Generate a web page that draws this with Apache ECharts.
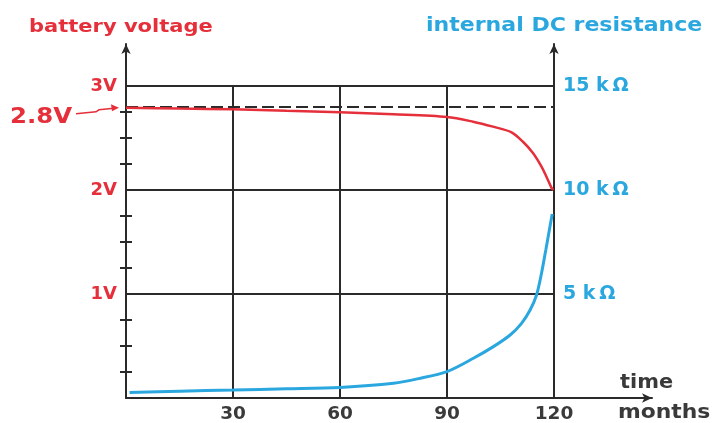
<!DOCTYPE html>
<html><head><meta charset="utf-8">
<script src="https://cdn.jsdelivr.net/npm/echarts@6/dist/echarts.min.js"></script>
<style>html,body{margin:0;padding:0;background:#fff}#c{width:712px;height:423px}</style>
</head><body><div id="c"></div>
<script>
// ---- data ----
const voltMonths = [0, 15, 30, 45, 60, 75, 90, 97.3, 102.9, 108.1, 111.3, 114.1, 116.5, 118.3, 119.3, 119.8];
const voltage    = [2.79, 2.783, 2.776, 2.762, 2.747, 2.728, 2.702, 2.657, 2.609, 2.555, 2.464, 2.356, 2.224, 2.096, 2.02, 2.0];
const resMonths  = [1, 15, 30, 45, 60, 75, 82, 90, 97.4, 103, 107.7, 110.9, 113.3, 115.1, 116.5, 117.7, 118.7, 119.5];
const resistance = [0.27, 0.33, 0.38, 0.44, 0.51, 0.71, 0.93, 1.27, 1.91, 2.47, 3.03, 3.59, 4.23, 4.95, 6.0, 7.12, 8.08, 8.85];
const monthTicks = [30, 60, 90, 120];
const voltTicks = [1, 2, 3];
const resTicks = [5, 10, 15];
const minorVoltTicks = [0.25, 0.5, 0.75, 1.25, 1.5, 1.75, 2.25, 2.5, 2.75];
const refVoltage = 2.8;

const RED = '#e5303b', BLUE = '#2aa7df', DARK = '#2a2a2a', LABEL = '#3a3a3a';
const FONT = 'DejaVu Sans';

const chart = echarts.init(document.getElementById('c'), null, {renderer: 'canvas'});
const pair = (xs, ys) => xs.map((x, i) => [x, ys[i]]);

const grids = [
  {left: 126, right: 158, top: 86, bottom: 25, outerBoundsMode: 'none', containLabel: false},
  {left: 126, right: 158, top: 44, bottom: 25, outerBoundsMode: 'none', containLabel: false},
  {left: 126, right: 60, top: 44, bottom: 25, outerBoundsMode: 'none', containLabel: false}
];
const option = {
  animation: false,
  backgroundColor: '#fff',
  grid: grids,
  xAxis: [
    {gridIndex: 0, type: 'value', min: 0, max: 120, interval: 30,
     axisLine: {show: false}, axisTick: {show: false},
     axisLabel: {color: LABEL, fontFamily: FONT, fontWeight: 'bold', fontSize: 18.5, margin: 7,
       customValues: monthTicks},
     splitLine: {show: true, lineStyle: {color: DARK, width: 2}}},
    {gridIndex: 1, type: 'value', min: 0, max: 120, show: false},
    {gridIndex: 2, type: 'value', min: 0, max: 1, axisLabel: {show: false}, axisTick: {show: false}, splitLine: {show: false},
     axisLine: {show: true, symbol: ['none', 'arrow'], symbolSize: [7, 10], lineStyle: {color: DARK, width: 2}}}
  ],
  yAxis: [
    {gridIndex: 0, type: 'value', position: 'left', min: 0, max: 3, interval: 1,
     axisLine: {show: false}, axisTick: {show: false},
     axisLabel: {color: RED, fontFamily: FONT, fontWeight: 'bold', fontSize: 18, margin: 9,
       customValues: voltTicks, formatter: v => v + 'V'},
     splitLine: {show: true, lineStyle: {color: DARK, width: 2}}},
    {gridIndex: 0, type: 'value', position: 'right', min: 0, max: 15, interval: 5,
     axisLine: {show: false}, axisTick: {show: false}, splitLine: {show: false},
     axisLabel: {color: BLUE, fontFamily: FONT, fontWeight: 'bold', fontSize: 19, margin: 9,
       customValues: resTicks, formatter: v => v + ' k\u2009\u03A9'}},
    {gridIndex: 1, type: 'value', position: 'left', min: 0, max: 3.4,
     axisLabel: {show: false}, splitLine: {show: false},
     axisLine: {show: true, symbol: ['none', 'arrow'], symbolSize: [7, 10], lineStyle: {color: DARK, width: 2}},
     axisTick: {show: true, inside: true, length: 6, customValues: minorVoltTicks, lineStyle: {color: DARK, width: 2}}},
    {gridIndex: 1, type: 'value', position: 'left', min: 0, max: 3.4,
     axisLabel: {show: false}, splitLine: {show: false},
     axisLine: {show: false},
     axisTick: {show: true, inside: false, length: 6, customValues: minorVoltTicks, lineStyle: {color: DARK, width: 2}}},
    {gridIndex: 1, type: 'value', position: 'right', min: 0, max: 3.4,
     axisLabel: {show: false}, splitLine: {show: false}, axisTick: {show: false},
     axisLine: {show: true, symbol: ['none', 'arrow'], symbolSize: [7, 10], lineStyle: {color: DARK, width: 2}}},
    {gridIndex: 2, type: 'value', min: 0, max: 1, show: false}
  ],
  series: [
    {type: 'line', xAxisIndex: 0, yAxisIndex: 0, data: [], z: 1, silent: true,
     markLine: {silent: true, symbol: 'none', label: {show: false},
       lineStyle: {color: DARK, width: 1.8, type: [12, 5]},
       data: [{yAxis: refVoltage}]}},
    {type: 'line', name: 'battery voltage', xAxisIndex: 0, yAxisIndex: 0, z: 5,
     data: pair(voltMonths, voltage), smooth: 0.3, showSymbol: false,
     lineStyle: {color: RED, width: 2.5}},
    {type: 'line', name: 'internal DC resistance', xAxisIndex: 0, yAxisIndex: 1, z: 5,
     data: pair(resMonths, resistance), smooth: 0.3, showSymbol: false,
     lineStyle: {color: BLUE, width: 3}}
  ]
};
chart.setOption(option);

// annotations (titles, 2.8V pointer, axis name)
const tip = chart.convertToPixel({xAxisIndex: 0, yAxisIndex: 0}, [0, refVoltage]);
const txt = (text, x, y, size, color, sx) => ({
  type: 'text', x: x, y: y, scaleX: sx, scaleY: 1, silent: true,
  style: {text: text, fill: color, fontFamily: FONT, fontWeight: 'bold', fontSize: size,
          textAlign: 'left', textVerticalAlign: 'middle', verticalAlign: 'middle'}
});
chart.setOption({
  graphic: [
    txt('battery voltage', 29, 27, 17.5, RED, 1.2),
    txt('internal DC resistance', 426, 26, 19, BLUE, 1.16),
    txt('2.8V', 10, 118, 20.5, RED, 1.19),
    txt('time', 620, 383, 19, LABEL, 1.1),
    txt('months', 618, 413, 19, LABEL, 1.15),
    {type: 'polyline', silent: true,
     shape: {points: [[76, tip[1] + 7], [96, tip[1] + 5], [99, tip[1] + 3], [tip[0] - 12, tip[1] + 1.5]]},
     style: {stroke: RED, lineWidth: 1.5, fill: null}},
    {type: 'polygon', silent: true,
     shape: {points: [[tip[0] - 7, tip[1] + 1], [tip[0] - 15, tip[1] - 2.5], [tip[0] - 14, tip[1] + 4.5]]},
     style: {fill: RED}}
  ]
});
</script>
</body></html>
